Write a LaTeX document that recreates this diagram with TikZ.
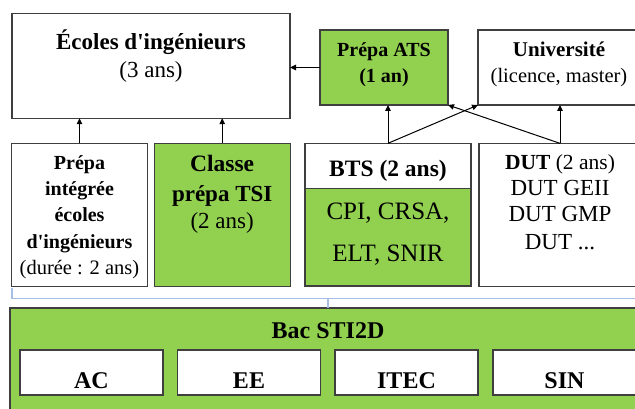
\documentclass[tikz,border=0pt]{standalone}
\usepackage{fontspec}
\setmainfont{Liberation Serif}
\usetikzlibrary{arrows.meta}
\definecolor{vert}{HTML}{92D050}
\definecolor{bord}{HTML}{3F3F3F}
\definecolor{bleu}{HTML}{A4BEE6}
\newcommand\myfs[1]{\fontsize{#1}{#1}\selectfont}
\tikzset{
  box/.style={draw=bord, line width=1.1pt, inner sep=0pt, outer sep=0pt, fill=white},
  gbox/.style={box, fill=vert},
  txt/.style={anchor=base, inner sep=0pt, outer sep=0pt},
  arr/.style={line width=1pt, -{Triangle[length=6pt,width=5.5pt]}},
  brk/.style={draw=bleu, line width=1.4pt},
}
\begin{document}
\begin{tikzpicture}[x=1pt, y=-1pt]
\useasboundingbox (0,0) rectangle (635,409);
\clip (0,0) rectangle (635,409);
\fill[white] (0,0) rectangle (635,409);
% top row
\node[box, minimum width=278pt, minimum height=105pt] (ecoles) at (151,65.7) {};
\node[gbox, minimum width=128pt, minimum height=75pt] (ats) at (384,67.5) {};
\node[box, minimum width=162pt, minimum height=75pt] (univ) at (559,67.5) {};
% middle row
\node[box, minimum width=135.6pt, minimum height=142.7pt] (integ) at (79.5,214.7) {};
\node[gbox, minimum width=135.7pt, minimum height=142.7pt] (tsi) at (222.2,214.7) {};
\node[box, minimum width=166pt, minimum height=45pt] (btshead) at (388,165.8) {};
\node[gbox, minimum width=166pt, minimum height=97.7pt] (btsbody) at (388,237.15) {};
\node[box, minimum width=162pt, minimum height=142.7pt] (dut) at (560,214.7) {};
% bottom
\node[gbox, minimum width=635pt, minimum height=112pt] (bac) at (327.5,364) {};
\node[box, minimum width=143pt, minimum height=45pt] (ac) at (91.5,372.5) {};
\node[box, minimum width=143pt, minimum height=45pt] (ee) at (249,372.5) {};
\node[box, minimum width=143pt, minimum height=45pt] (itec) at (406.5,372.5) {};
\node[box, minimum width=143pt, minimum height=45pt] (sin) at (564.5,372.5) {};
% texts
\node[txt] (t1) at (151,49.5) {\myfs{23}\bfseries Écoles d\textquotesingle ingénieurs};
\node[txt] (t2) at (151,77.5) {\myfs{23}(3 ans)};
\node[txt] (t3) at (384,57) {\myfs{20}\bfseries Prépa ATS};
\node[txt] (t4) at (384,83) {\myfs{20}\bfseries (1 an)};
\node[txt] (t5) at (559,57) {\myfs{21}\bfseries Université};
\node[txt] (t6) at (559,83) {\myfs{20.5}(licence, master)};
\node[txt] (t7) at (79.5,170) {\myfs{20}\bfseries Prépa};
\node[txt] (t8) at (79.5,196) {\myfs{20}\bfseries intégrée};
\node[txt] (t9) at (79.5,222) {\myfs{20}\bfseries écoles};
\node[txt] (t10) at (79.5,248) {\myfs{20}\bfseries d\textquotesingle ingénieurs};
\node[txt] (t11) at (79.5,274.5) {\myfs{20.5}(durée : 2 ans)};
\node[txt] (t12) at (222.2,172) {\myfs{23.5}\bfseries Classe};
\node[txt] (t13) at (222.2,201) {\myfs{23}\bfseries prépa TSI};
\node[txt] (t14) at (222.2,229) {\myfs{23}(2 ans)};
\node[txt] (t15) at (388,177) {\myfs{23.5}\bfseries BTS (2 ans)};
\node[txt] (t16) at (388,219) {\myfs{25}CPI, CRSA,};
\node[txt] (t17) at (388,261) {\myfs{25}ELT, SNIR};
\node[txt] (t18) at (560,170) {\myfs{21.5}\textbf{DUT} (2 ans)};
\node[txt] (t19) at (560,196) {\myfs{23}DUT GEII};
\node[txt] (t20) at (560,222) {\myfs{23}DUT GMP};
\node[txt] (t21) at (560,249) {\myfs{23}DUT ...};
\node[txt] (t22) at (328,338) {\myfs{24}\bfseries Bac STI2D};
\node[txt] (t23) at (91.5,388) {\myfs{24}\bfseries AC};
\node[txt] (t24) at (249,388) {\myfs{24}\bfseries EE};
\node[txt] (t25) at (406.5,388) {\myfs{24}\bfseries ITEC};
\node[txt] (t26) at (564.5,388) {\myfs{24}\bfseries SIN};
% connectors
\draw[arr] (ats.west) -- (ats.west -| ecoles.east);
\draw[arr] (integ.north) -- (integ.north |- ecoles.south);
\draw[arr] (tsi.north) -- (tsi.north |- ecoles.south);
\draw[arr] (btshead.north) -- (btshead.north |- ats.south);
\draw[arr] (btshead.north) -- (univ.south west);
\draw[arr] (dut.north) -- (dut.north |- univ.south);
\draw[arr] (dut.north) -- (ats.south east);
% bracket
\coordinate (bk1) at (12,288);
\coordinate (bk2) at (645,298.5);
\coordinate (bk3) at (328,298.5);
\draw[brk] (bk1) |- (bk2);
\draw[brk] (bk3) -- (bk3 |- bac.north);
\end{tikzpicture}
\end{document}
